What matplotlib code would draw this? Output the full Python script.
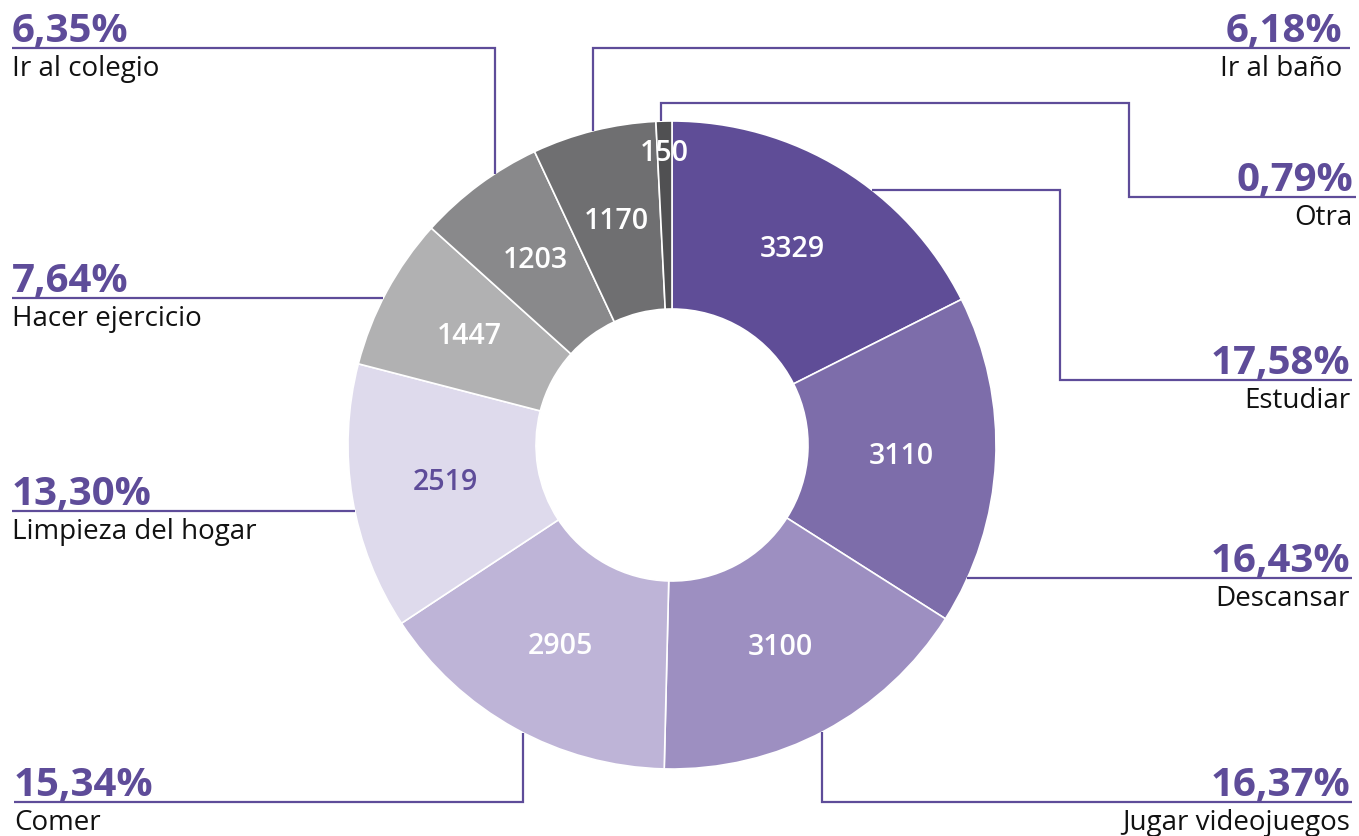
import matplotlib
matplotlib.use('Agg')
import matplotlib.pyplot as plt
import numpy as np

# ---------------- data ----------------
categories = ['Estudiar', 'Descansar', 'Jugar videojuegos', 'Comer',
              'Limpieza del hogar', 'Hacer ejercicio', 'Ir al colegio',
              'Ir al baño', 'Otra']
values = [3329, 3110, 3100, 2905, 2519, 1447, 1203, 1170, 150]
colors = ['#5f4d97', '#7d6daa', '#9d8fc1', '#beb4d7', '#dedaec',
          '#b1b1b2', '#89898b', '#6f6f71', '#505052']
value_text_colors = ['white', 'white', 'white', 'white', '#5e4c99',
                     'white', 'white', 'white', 'white']

PURPLE = '#5e4c99'
FONT = ['Open Sans', 'DejaVu Sans']

# ---------------- layout ----------------
W, H = 1359, 836
fig = plt.figure(figsize=(W / 100, H / 100), dpi=100)
ax = fig.add_axes([0, 0, 1, 1])

CX, CY_TOP = 672, 445          # pixel centre (y from top)
R, R_IN = 324, 136


def Y(y):
    return H - y


wedges, _ = ax.pie(values, colors=colors, startangle=90, counterclock=False,
                   radius=R, center=(CX, Y(CY_TOP)),
                   wedgeprops=dict(width=R - R_IN, edgecolor='white',
                                   linewidth=1.2))
ax.set_xlim(0, W)
ax.set_ylim(0, H)
ax.set_aspect('equal')
ax.axis('off')

total = sum(values)

# value labels inside wedges
for w, v, tc in zip(wedges, values, value_text_colors):
    mid = np.deg2rad((w.theta1 + w.theta2) / 2)
    rr = 292 if v / total < 0.02 else 230
    ax.text(CX + rr * np.cos(mid), Y(CY_TOP) + rr * np.sin(mid), f'{v}',
            ha='center', va='center', color=tc, fontsize=20.5,
            fontweight='semibold', family=FONT)


def circle_x(y_top, side):
    dy = y_top - CY_TOP
    return CX + side * np.sqrt(R ** 2 - dy ** 2)


def circle_y(x, side):
    dx = x - CX
    return CY_TOP + side * np.sqrt(R ** 2 - dx ** 2)


# callout specs: start on ring, then waypoints (pixel coords from top)
# start: ('h', y, side) leaves horizontally ; ('v', x, side) leaves vertically
callouts = {
    'Estudiar': (('h', 190, 1), [(1060, 190), (1060, 380), (1352, 380)], 'right', 1350),
    'Descansar': (('h', 578, 1), [(1352, 578)], 'right', 1350),
    'Jugar videojuegos': (('v', 822, 1), [(822, 802), (1352, 802)], 'right', 1350),
    'Comer': (('v', 523, 1), [(523, 802), (14, 802)], 'left', 14),
    'Limpieza del hogar': (('h', 511, -1), [(12, 511)], 'left', 12),
    'Hacer ejercicio': (('h', 298, -1), [(12, 298)], 'left', 12),
    'Ir al colegio': (('v', 495, -1), [(495, 48), (12, 48)], 'left', 12),
    'Ir al baño': (('v', 593, -1), [(593, 48), (1350, 48)], 'right', 1342),
    'Otra': (('v', 661, -1), [(661, 103), (1129, 103), (1129, 197), (1356, 197)], 'right', 1353),
}

for cat, v in zip(categories, values):
    (kind, c, side), pts, align, tx = callouts[cat]
    if kind == 'h':
        start = (circle_x(c, side), c)
    else:
        start = (c, circle_y(c, side))
    path = [start] + pts
    xs = [p[0] for p in path]
    ys = [Y(p[1]) for p in path]
    ax.plot(xs, ys, color=PURPLE, lw=1.6, solid_joinstyle='miter',
            solid_capstyle='butt')
    line_y = pts[-1][1]
    pct = f'{v / total * 100:.2f}%'.replace('.', ',')
    ax.text(tx, Y(line_y - 6), pct, ha=align, va='baseline', color=PURPLE,
            fontsize=29, fontweight='bold', family=FONT)
    ax.text(tx, Y(line_y + 28), cat, ha=align, va='baseline', color='#111111',
            fontsize=20, family=FONT)

fig.savefig('out.png', dpi=100, facecolor='white')
